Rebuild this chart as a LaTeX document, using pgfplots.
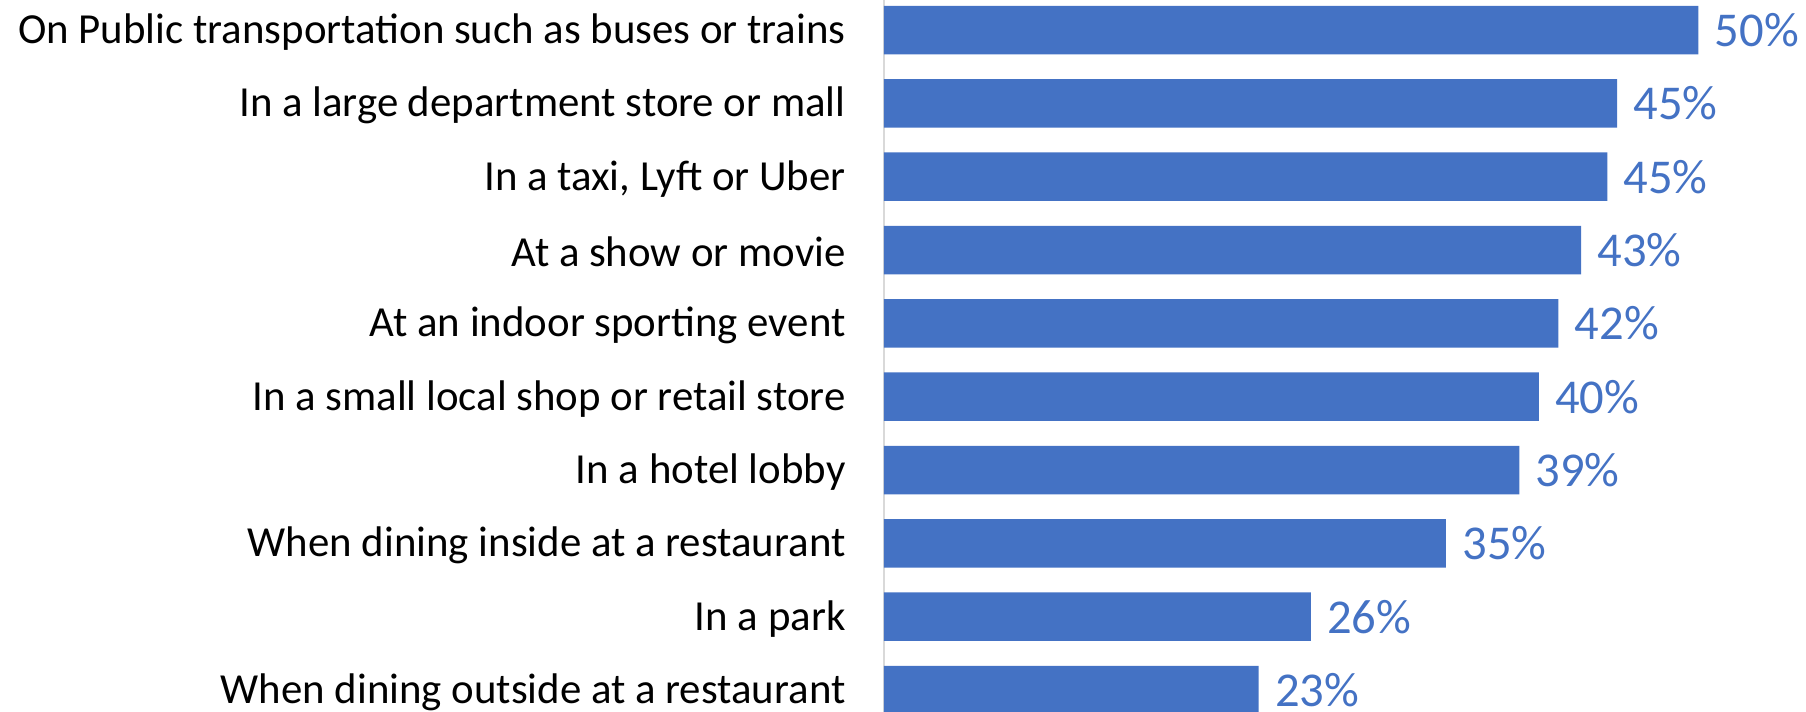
\documentclass[border=0pt]{standalone}
\usepackage{pgfplots}
\pgfplotsset{compat=1.18}
\usepackage{fontspec}
\setmainfont{Carlito}
\definecolor{barblue}{HTML}{4472C4}
\definecolor{axgray}{HTML}{D9D9D9}
\begin{document}
\begin{tikzpicture}
\begin{axis}[
 at={(0,0)}, anchor=south west,
 scale only axis, width=461bp, height=356bp,
 xbar, bar width=24.25bp,
 xmin=0, xmax=56.6,
 ymin=0.59, ymax=10.30, y dir=reverse,
 axis x line=none,
 axis y line*=left,
 y axis line style={draw=axgray, line width=1bp, -},
 ytick={1,...,10},
 yticklabels={On Public transportation such as buses or trains,
   In a large department store or mall,
   {In a taxi, Lyft or Uber},
   At a show or movie,
   At an indoor sporting event,
   In a small local shop or retail store,
   In a hotel lobby,
   When dining inside at a restaurant,
   In a park,
   When dining outside at a restaurant},
 major tick length=0pt,
 yticklabel style={font=\fontsize{21.5}{25}\selectfont, anchor=east, inner sep=0pt, xshift=-19bp, yshift=-1bp, text=black},
 point meta=explicit symbolic,
 nodes near coords={\pgfplotspointmeta},
 nodes near coords style={font=\fontsize{24.4}{28}\selectfont, text=barblue, anchor=west, inner sep=0pt, xshift=8bp},
]
\addplot[fill=barblue, draw=none] coordinates {
 (50,1) [50\%]
 (45.0,2) [45\%]
 (44.4,3) [45\%]
 (42.8,4) [43\%]
 (41.4,5) [42\%]
 (40.2,6) [40\%]
 (39.0,7) [39\%]
 (34.5,8) [35\%]
 (26.2,9) [26\%]
 (23.0,10) [23\%]
};
\end{axis}
\pgfresetboundingbox
\useasboundingbox (-442bp,0) rectangle (461bp,356bp);
\end{tikzpicture}
\end{document}
